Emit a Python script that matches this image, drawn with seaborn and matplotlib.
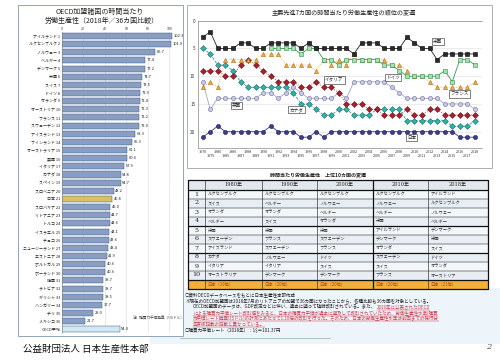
import matplotlib
matplotlib.use('Agg')
import matplotlib.pyplot as plt
import seaborn as sns
import numpy as np
import pandas as pd
from matplotlib.patches import Rectangle

sns.set_theme(style='white')
plt.rcParams['font.family'] = ['Noto Sans CJK JP', 'DejaVu Sans']
plt.rcParams['axes.unicode_minus'] = False

# ---------------- data: OECD bar chart ----------------
countries = ['アイルランド', 'ルクセンブルク', 'ノルウェー', 'ベルギー', 'デンマーク', '米国', 'スイス',
             'ドイツ', 'オランダ', 'オーストリア', 'フランス', 'スウェーデン', 'アイスランド', 'フィンランド',
             'オーストラリア', '英国', 'イタリア', 'カナダ', 'スペイン', 'スロベニア', '日本', 'スロバキア',
             'リトアニア', 'トルコ', 'イスラエル', 'チェコ', 'ニュージーランド', 'エストニア', 'ポルトガル',
             'ポーランド', '韓国', 'ラトビア', 'ギリシャ', 'ハンガリー', 'チリ', 'メキシコ', 'OECD平均']
values = [102.3, 101.9, 86.7, 77.4, 77.2, 74.7, 73.5, 72.9, 72.4, 72.3, 72.2, 72.0, 68.3, 65.3,
          61.1, 60.6, 57.9, 54.8, 54.7, 48.2, 46.8, 45.0, 44.7, 44.6, 44.1, 43.6, 43.4, 41.9, 40.6,
          40.6, 38.7, 38.7, 38.5, 37.7, 29.0, 21.7, 54.0]
bar_ticks = [0, 20, 40, 60, 80, 100]

# ---------------- data: G7 rank chart ----------------
years = ['1970', '1975', '1980'] + [str(y) for y in range(1985, 2019)]
nan = np.nan
rank_us = [3, 2, 5, 5, 5, 4, 4, 5, 5, 4, 4, 4, 4, 5, 4, 5, 5, 5, 5, 5, 6, 4, 4, 4, 5, 5, 5, 3, 4, 5, 5, 7, 6, 6, 6, 6, 6]
rank_de = [nan] * 9 + [5, 5, 5, 5, 6, 5, 5, 7, 7, 8, 7, 7, 7, 7, 7, 8, 8, 9, 10, 10, 10, 10, 10, 9, 11, 7, 7, 8]
rank_fr = [12, 11, 12, 7, 7, 7, 7, 7, 6, 6, 6, 8, 8, 8, 8, 9, 7, 8, 7, 8, 6, 7, 7, 7, 7, 8, 8, 9, 10, 10, 11, 12, 12, 12, 12, 12, 11]
rank_uk = [11, 16, 14, 14, 14, 14, 14, 14, 13, 13, 14, 13, 12, 13, 14, 14, 14, 14, 13, 14, 11, 11, 11, 11, 11, 12, 13, 14, 14, 14, 14, 14, 15, 15, 15, 15, 16]
rank_it = [9, 9, 9, 10, 10, 8, 7, 8, 9, 10, 11, 11, 11, 12, 12, 11, 12, 12, 13, 15, 15, 15, 16, 16, 17, 17, 17, 16, 17, 17, 16, 16, 17, 17, 17, 17, 17]
rank_ca = [5, 6, 8, 8, 9, 11, 12, 12, 12, 12, 12, 12, 13, 15, 15, 16, 17, 17, 16, 16, 17, 17, 17, 16, 16, 16, 16, 18, 18, 18, 18, 18, 18, 19, 19, 19, 18]
rank_jp = [21, 20, 19, 20, 20, 20, 20, 20, 20, 19, 20, 20, 20, 21, 21, 20, 21, 20, 20, 20, 20, 20, 20, 20, 20, 20, 20, 20, 20, 20, 20, 20, 20, 20, 21, 21, 21]
rank_ticks = [0, 5, 10, 15, 20]

# ---------------- data: top-10 table ----------------
table_headers = ['', '1980年', '1990年', '2000年', '2010年', '2018年']
table_ranks = ['1', '2', '3', '4', '5', '6', '7', '8', '9', '10', '-']
col_1980 = ['ルクセンブルク', 'スイス', 'オランダ', 'ベルギー', '米国', 'スウェーデン', 'アイスランド', 'カナダ', 'イタリア', 'オーストラリア', '日本（19位）']
col_1990 = ['ルクセンブルク', 'ベルギー', 'オランダ', 'スイス', '米国', 'フランス', 'スウェーデン', 'ノルウェー', 'イタリア', 'デンマーク', '日本（20位）']
col_2000 = ['ルクセンブルク', 'ノルウェー', 'ベルギー', 'オランダ', '米国', 'スウェーデン', 'フランス', 'ドイツ', 'スイス', 'デンマーク', '日本（20位）']
col_2010 = ['ルクセンブルク', 'ノルウェー', 'ベルギー', '米国', 'アイルランド', 'デンマーク', 'オランダ', 'スウェーデン', 'スイス', 'フランス', '日本（20位）']
col_2018 = ['アイルランド', 'ルクセンブルク', 'ノルウェー', 'ベルギー', 'デンマーク', '米国', 'スイス', 'ドイツ', 'オランダ', 'オーストリア', '日本（21位）']

notes_black = ['○資料OECDデータベースをもとに日本生産性本部作成',
               '※現在のOECD加盟国は2018年7月のリトアニアの加盟で36カ国になったことから、各種比較も36カ国を対象としている。',
               'OECD加盟国のデータは、GDP改定などに伴い、過去に遡って随時改訂されている。また、']
notes_red = ['2019年に公表されたOECD',
             'による購買力平価レート改訂値をみると、日本の購買力平価が過去に遡及して改訂されていたため、労働生産性水準(購買',
             '力平価レート換算USドル)の計測にあたって1.10倍の改訂を行った。そのため、日本の労働生産性水準は前回までの発行分',
             '年度版記載の記載と異なっている。']
note_rate = '○購買力平価レート（2018年）：1$＝101.37円'

# ---------------- figure ----------------
W, H = 500, 360
fig = plt.figure(figsize=(5, 3.6), dpi=100)
fig.patch.set_facecolor('white')

def fx(px):
    return px / W

def fy(py):
    return 1 - py / H

bg = fig.add_axes([0, 0, 1, 1], zorder=0)
bg.set_xlim(0, W)
bg.set_ylim(H, 0)
bg.axis('off')

# pale blue background band at bottom right
bg.add_patch(Rectangle((150, 288), 350, 56, fc='#eef5fa', ec='none'))
bg.plot([180, 330], [338, 338], color='#9bc0a8', lw=0.6)

# panel frames
bg.add_patch(Rectangle((18, 5), 165, 331, fc='white', ec='#8fa6b8', lw=0.7))
bg.add_patch(Rectangle((187, 5), 305, 163, fc='white', ec='#a0a0a0', lw=0.6))

# left titles
bg.text(100, 12, 'OECD加盟諸国の時間当たり', fontsize=5, ha='center', va='center', color='#222')
bg.text(102, 20.5, '労働生産性（2018年／36カ国比較）', fontsize=5, ha='center', va='center', color='#222')
bg.text(133, 318, '注）購買力平価換算（USドル）', fontsize=2.6, ha='left', va='center', color='#444')

# ---------------- bar chart ----------------
ax_bar = fig.add_axes([fx(61.7), fy(333.4), 121.3 / W, 301.5 / H], zorder=2)
labels = [f'{c} {i + 1}' if c != 'OECD平均' else c for i, c in enumerate(countries)]
colors = {}
for lab, c in zip(labels, countries):
    if c == '日本':
        colors[lab] = '#f2c94c'
    elif c == 'OECD平均':
        colors[lab] = '#cdeaf6'
    else:
        colors[lab] = '#7f9ccc'
df_bar = pd.DataFrame({'label': labels, 'value': values})
sns.barplot(data=df_bar, x='value', y='label', hue='label', palette=colors, legend=False,
            orient='h', width=0.74, ax=ax_bar, edgecolor='#3f5f8f', linewidth=0.35)
ax_bar.set_xlim(0, 112.8)
ax_bar.set_ylim(36.5, -0.5)
ax_bar.xaxis.tick_top()
ax_bar.set_xticks(bar_ticks)
ax_bar.set_xticklabels([str(t) for t in bar_ticks])
ax_bar.tick_params(axis='x', labelsize=2.6, pad=0.6, length=0, colors='#333')
ax_bar.tick_params(axis='y', labelsize=2.9, pad=1.2, length=0, colors='#222')
ax_bar.set_xlabel('')
ax_bar.set_ylabel('')
ax_bar.set_facecolor('none')
for s in ax_bar.spines.values():
    s.set_visible(False)
ax_bar.spines['left'].set_visible(True)
ax_bar.spines['left'].set_color('#888')
ax_bar.spines['left'].set_linewidth(0.4)
ax_bar.grid(axis='x', color='#d5dde5', lw=0.4)
ax_bar.set_axisbelow(True)
for i, v in enumerate(values):
    ax_bar.text(v + 1.5, i, f'{v:.1f}', fontsize=2.9, va='center', ha='left', color='#222')

# ---------------- rank line chart ----------------
bg.text(344, 13, '主要先進7カ国の時間当たり労働生産性の順位の変遷', fontsize=4.4, ha='center', va='center', color='#222')
ax_ln = fig.add_axes([fx(198), fy(148.3), 284 / W, 127.6 / H], zorder=2)
idx = np.arange(len(years))
series = [
    (rank_uk, dict(color='#9aa8c8', marker='o', markerfacecolor='#c8c8ea', markeredgecolor='#6f6fa0', ls='-')),
    (rank_ca, dict(color='#2a9d98', marker='D', markerfacecolor='#2fb0a8', markeredgecolor='#1d6e6a', ls='--')),
    (rank_it, dict(color='#a8202e', marker='D', markerfacecolor='#a8202e', markeredgecolor='#6a1018', ls=':')),
    (rank_fr, dict(color='#e8a040', marker='^', markerfacecolor='#f2b040', markeredgecolor='#b06a10', ls=':')),
    (rank_de, dict(color='#2e9a50', marker='s', markerfacecolor='#a8e0a8', markeredgecolor='#2e8a4a', ls='-')),
    (rank_us, dict(color='#222222', marker='s', markerfacecolor='#2a2a2a', markeredgecolor='#000000', ls='-')),
    (rank_jp, dict(color='#3a3a8c', marker='o', markerfacecolor='#3c3c96', markeredgecolor='#20205a', ls='-')),
]
for ranks, st in series:
    d = pd.DataFrame({'x': idx, 'rank': ranks})
    sns.lineplot(data=d, x='x', y='rank', ax=ax_ln, color=st['color'], linestyle=st['ls'], lw=0.6,
                 marker=st['marker'], markersize=3.0, markerfacecolor=st['markerfacecolor'],
                 markeredgecolor=st['markeredgecolor'], markeredgewidth=0.4)
ax_ln.set_xlim(-0.62, 36.93)
ax_ln.set_ylim(23, 0)
ax_ln.set_yticks(rank_ticks)
ax_ln.set_yticklabels([str(t) for t in rank_ticks])
ax_ln.set_xticks(idx)
ax_ln.set_xticklabels([y if i % 2 == 0 else '\n' + y for i, y in enumerate(years)])
ax_ln.tick_params(axis='x', labelsize=2.7, pad=1, length=0, colors='#333')
ax_ln.tick_params(axis='y', labelsize=3.3, pad=2, length=0, colors='#333')
ax_ln.set_xlabel('')
ax_ln.set_ylabel('')
ax_ln.set_facecolor('none')
ax_ln.grid(axis='y', color='#dddddd', lw=0.4)
ax_ln.set_axisbelow(True)
ax_ln.spines['right'].set_visible(False)
for side in ['left', 'bottom', 'top']:
    ax_ln.spines[side].set_color('#888')
    ax_ln.spines[side].set_linewidth(0.5)

box = dict(boxstyle='square,pad=0.25', fc='white', ec='#222', lw=0.4)
for name, xi, yr in [('米国', 31.1, 3.8), ('ドイツ', 25.2, 10.2), ('フランス', 34.0, 13.2),
                     ('日本', 27.6, 21.0), ('イタリア', 17.4, 10.7), ('カナダ', 12.4, 16.0), ('英国', 4.5, 15.3)]:
    ax_ln.text(xi, yr, name, fontsize=3.3, ha='center', va='center', bbox=box, color='#222', zorder=5)

# ---------------- table ----------------
bg.text(318, 175, '時間当たり労働生産性　上位10カ国の変遷', fontsize=3.6, ha='center', va='center', color='#222', weight='bold')
col_edges = [188, 205, 262, 317, 373, 428, 488]
row_edges = [180, 189.5] + [189.5 + 9 * k for k in range(1, 11)] + [289]
columns = [col_1980, col_1990, col_2000, col_2010, col_2018]
n_rows = len(row_edges) - 1
for r in range(n_rows):
    y0, y1 = row_edges[r], row_edges[r + 1]
    if r == 0:
        fc = '#e2e8ee'
    elif r == n_rows - 1:
        fc = '#f3b13a'
    else:
        fc = '#f4f7fa' if r % 2 == 1 else '#e8eef4'
    bg.add_patch(Rectangle((col_edges[0], y0), col_edges[-1] - col_edges[0], y1 - y0, fc=fc, ec='none'))
for r, y in enumerate(row_edges):
    lw = 0.9 if r in (0, len(row_edges) - 1, 1, 5, 8, 11) else 0.35
    bg.plot([col_edges[0], col_edges[-1]], [y, y], color='#111', lw=lw)
for c, x in enumerate(col_edges):
    lw = 0.9 if c in (0, len(col_edges) - 1, 4) else 0.4
    bg.plot([x, x], [row_edges[0], row_edges[-1]], color='#111', lw=lw)
for c in range(1, len(col_edges) - 1):
    bg.text((col_edges[c] + col_edges[c + 1]) / 2, (row_edges[0] + row_edges[1]) / 2, table_headers[c],
            fontsize=3.6, ha='center', va='center', color='#222', family=['DejaVu Serif', 'Noto Sans CJK JP'])
for r in range(len(table_ranks)):
    yc = (row_edges[r + 1] + row_edges[r + 2]) / 2
    is_jp = (r == len(table_ranks) - 1)
    bg.text((col_edges[0] + col_edges[1]) / 2, yc, table_ranks[r], fontsize=4.6 if not is_jp else 3.5,
            ha='center', va='center', color='#c0392b' if is_jp else '#222', family='DejaVu Serif')
    for c, col in enumerate(columns):
        bg.text(col_edges[c + 1] + 2.5, yc, col[r], fontsize=3.1, ha='left', va='center',
                color='#c0392b' if is_jp else '#333')

# ---------------- notes ----------------
NFS = 3.25
RED = '#d03a4a'
bg.text(185, 295.5, notes_black[0], fontsize=NFS, ha='left', va='center', color='#222')
bg.text(185, 301.3, notes_black[1], fontsize=NFS, ha='left', va='center', color='#222')
t3 = bg.text(193, 307.1, notes_black[2], fontsize=NFS, ha='left', va='center', color='#222')
fig.canvas.draw()
inv = bg.transData.inverted()
x_end = inv.transform(t3.get_window_extent().get_points())[1, 0]
red_texts = [bg.text(x_end + 0.5, 307.1, notes_red[0], fontsize=NFS, ha='left', va='center', color=RED)]
for k, line in enumerate(notes_red[1:]):
    red_texts.append(bg.text(193, 312.9 + 5.8 * k, line, fontsize=NFS, ha='left', va='center', color=RED))
fig.canvas.draw()
for rt in red_texts:
    pts = inv.transform(rt.get_window_extent().get_points())
    yb = max(pts[0, 1], pts[1, 1])
    bg.plot([pts[0, 0], pts[1, 0]], [yb, yb], color=RED, lw=0.35)
bg.text(185, 330.7, note_rate, fontsize=NFS, ha='left', va='center', color='#222')

# footer
bg.text(23, 349, '公益財団法人 日本生産性本部', fontsize=6.8, ha='left', va='center', color='#111')
bg.text(489, 347, '2', fontsize=6, ha='center', va='center', color='#555', style='italic', family='DejaVu Serif')

fig.savefig('out.png', dpi=100)
